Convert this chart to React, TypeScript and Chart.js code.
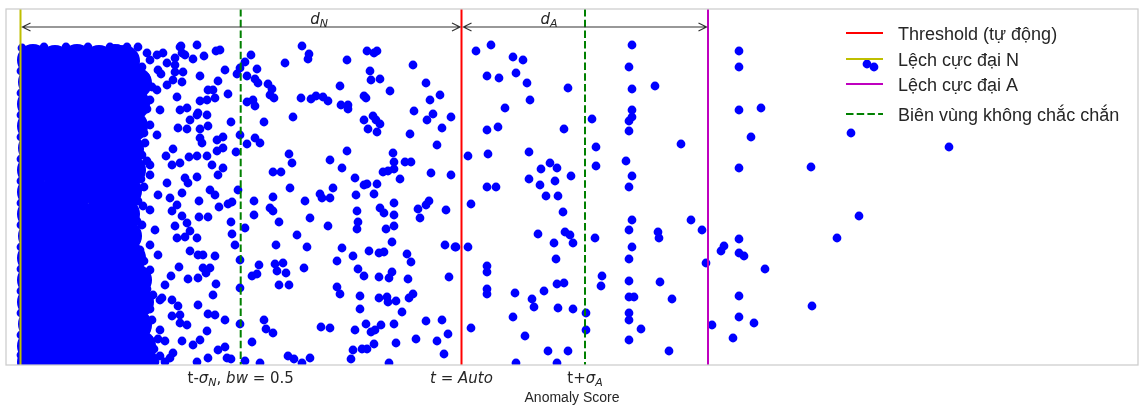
import { useEffect, useRef } from "react";
import { Chart, registerables } from "chart.js";

Chart.register(...registerables);

// ---- axis ranges (score units, jitter units with 0 at top) ----
const scoreMin = 0;
const scoreMax = 1132;
const jitterMin = 0;
const jitterMax = 356;

// ---- reference lines (scores) ----
const maxDevN = 14.5;
const lowerBound = 234.7;
const threshold = 455.5;
const upperBound = 579;
const maxDevA = 702;

// ---- annotation values ----
const arrowLevel = 18;
const dLabelScores = [313, 543];
const dLabelSubs = ["N", "A"];

// ---- tick labels (segments: t text, i italic, s subscript) ----
const tickScores = [lowerBound, threshold, upperBound];
const tickLabels = [
  [{ t: "t-" }, { t: "σ", i: true }, { t: "N", i: true, s: true }, { t: ", " }, { t: "bw", i: true }, { t: " = " }, { t: "0.5" }],
  [{ t: "t", i: true }, { t: " = " }, { t: "Auto", i: true }],
  [{ t: "t+" }, { t: "σ", i: true }, { t: "A", i: true, s: true }],
];
const axisTitle = "Anomaly Score";

// ---- legend ----
const legendLabels = ["Threshold (tự động)", "Lệch cực đại N", "Lệch cực đại A", "Biên vùng không chắc chắn"];
const legendColors = ["#ff0000", "#bfbf00", "#bf00bf", "#008000"];
const legendDashed = [false, false, false, true];

// ---- dense mass of normal samples (overlapping core) ----
const denseCore = [
  [27, 51], [49, 52], [71, 51], [93, 52], [109, 51], [118, 52],
  [28, 73], [49, 73], [70, 74], [93, 73], [114, 73], [130, 74],
  [27, 95], [50, 95], [71, 95], [92, 96], [115, 95], [128, 95],
  [27, 117], [49, 116], [71, 117], [93, 117], [113, 118], [126, 117],
  [28, 139], [49, 139], [72, 139], [93, 138], [112, 139], [122, 140],
  [27, 161], [50, 161], [71, 160], [93, 161], [112, 161], [124, 161],
  [27, 183], [49, 184], [71, 183], [94, 183], [111, 183], [120, 182],
  [27, 205], [49, 205], [70, 205], [93, 206], [110, 205], [118, 205],
  [28, 227], [49, 227], [71, 228], [93, 227], [110, 227], [120, 227],
  [27, 249], [50, 249], [71, 249], [92, 249], [112, 250], [124, 249],
  [27, 271], [49, 270], [71, 271], [93, 271], [115, 271], [130, 271],
  [27, 293], [49, 293], [72, 293], [93, 294], [115, 293], [132, 293],
  [28, 315], [49, 315], [71, 315], [93, 315], [114, 315], [130, 316],
  [27, 337], [50, 337], [71, 338], [93, 337], [115, 337], [134, 337],
  [27, 353], [49, 353], [71, 353], [93, 353], [115, 353], [136, 353],
];

// ---- individual points at the edge of the dense mass ----
const denseEdge = [
  [16, 39], [38, 38], [60, 38], [82, 38], [104, 38], [112, 40],
  [15, 62], [15, 84], [15, 106], [15, 128], [15, 150], [15, 172], [15, 194], [15, 216],
  [15, 238], [15, 260], [15, 282], [15, 304], [15, 326], [15, 346],
  [144, 51], [152, 61], [144, 91], [154, 101], [144, 116], [151, 126], [144, 166], [152, 186],
  [144, 201], [149, 221], [144, 236], [152, 246], [144, 261], [154, 291], [146, 311], [154, 321],
  [144, 331], [159, 353], [149, 353],
  [136, 58], [140, 68], [146, 78], [141, 100], [138, 124], [139, 134], [136, 146], [141, 152],
  [135, 170], [138, 178], [132, 192], [137, 197], [131, 212], [136, 216], [130, 230], [134, 241],
  [138, 252], [136, 264], [141, 280], [144, 300], [140, 322], [148, 340], [152, 330],
];

// ---- transition zone points ----
const transitionPoints = [
  [191, 36], [175, 37], [198, 47], [210, 42], [214, 41], [187, 50], [219, 61], [194, 67], [212, 72],
  [202, 81], [207, 81], [222, 85], [194, 92], [201, 91], [209, 89], [181, 99], [174, 101], [192, 104],
  [201, 106], [184, 111], [172, 119], [181, 120], [194, 120], [202, 117], [194, 129], [196, 134],
  [211, 131], [217, 128], [167, 140], [160, 147], [166, 156], [174, 154], [183, 148], [191, 147],
  [201, 147], [206, 156], [211, 142], [217, 139], [217, 159], [212, 166], [144, 156], [179, 169],
  [182, 174], [191, 168], [161, 174], [204, 181], [209, 186], [176, 184], [164, 189], [171, 196],
  [166, 202], [193, 192], [213, 198], [222, 195], [176, 207], [181, 214], [193, 208], [202, 208],
  [169, 217], [184, 222], [171, 229], [179, 228], [191, 229], [184, 242], [192, 246], [197, 246],
  [209, 247], [173, 258], [182, 270], [192, 269], [197, 259], [204, 259], [200, 264], [210, 275],
  [165, 267], [159, 276], [207, 286], [147, 286], [156, 289], [166, 291], [192, 296], [202, 305],
  [209, 306], [219, 311], [172, 297], [174, 306], [166, 307], [174, 314], [181, 316], [201, 322],
  [194, 331], [187, 336], [212, 341], [219, 338], [221, 349], [202, 349], [191, 353], [167, 344],
  [176, 332], [159, 332], [154, 347], [164, 349], [144, 349],
  [174, 38], [176, 44], [169, 49], [179, 46], [161, 54], [151, 46], [157, 44], [141, 44], [132, 38],
  [121, 38], [169, 56], [169, 63], [177, 63], [167, 71], [176, 73], [155, 65], [161, 76], [151, 81],
  [171, 88], [191, 106],
];

// ---- uncertain zone (left of threshold) ----
const uncertainNormal = [
  [296, 37], [303, 45], [302, 50], [279, 54], [341, 51], [245, 46], [239, 53], [234, 59], [231, 65],
  [241, 67], [251, 60], [249, 70], [252, 74], [262, 75], [266, 80], [264, 86], [268, 89], [241, 93],
  [247, 91], [249, 97], [295, 89], [305, 90], [310, 87], [317, 88], [322, 92], [287, 108], [258, 113],
  [225, 113], [334, 77], [335, 96], [342, 96], [342, 100], [361, 42], [368, 44], [371, 42], [364, 62],
  [365, 71], [374, 70], [384, 82], [358, 87], [360, 89], [407, 56], [420, 74], [434, 86], [424, 91],
  [408, 102], [427, 105], [421, 111], [445, 108], [436, 119], [404, 125], [431, 136], [358, 111],
  [367, 107], [370, 111], [374, 115], [362, 120], [371, 123], [234, 126], [249, 129], [254, 134],
  [241, 135], [230, 143], [283, 145], [286, 154], [267, 163], [275, 163], [324, 151], [336, 159],
  [341, 142], [387, 144], [388, 153], [399, 153], [405, 153], [388, 160], [382, 162], [377, 163],
  [394, 170], [349, 169], [358, 176], [361, 175], [371, 175], [368, 185], [350, 186], [425, 164],
  [445, 166], [232, 181], [226, 193], [248, 192], [267, 188], [284, 179], [299, 192], [314, 185],
  [316, 189], [324, 189], [327, 179], [264, 199], [267, 202], [248, 206], [273, 213], [304, 209],
  [322, 217], [225, 213], [239, 219], [226, 225], [229, 236], [351, 202], [352, 213], [351, 220],
  [374, 199], [378, 204], [388, 194], [388, 206], [388, 217], [380, 220], [386, 233], [412, 200],
  [420, 196], [423, 192], [414, 209], [440, 201], [291, 226], [270, 236], [301, 238], [336, 239],
  [347, 247], [331, 252], [363, 242], [373, 244], [378, 243], [401, 245], [405, 253], [439, 236],
  [449, 238], [234, 251], [253, 256], [246, 267], [251, 265], [269, 255], [277, 254], [271, 262],
  [280, 264], [273, 276], [283, 276], [298, 259], [352, 260], [358, 267], [373, 268], [383, 269],
  [386, 263], [402, 270], [443, 268], [234, 279], [331, 278], [334, 285], [354, 287], [373, 289],
  [381, 288], [382, 293], [390, 292], [403, 289], [407, 285], [354, 300], [396, 303], [258, 311],
  [260, 320], [267, 324], [234, 315], [315, 318], [324, 319], [349, 321], [360, 315], [365, 323],
  [369, 321], [375, 316], [388, 315], [420, 312], [436, 311], [442, 325], [410, 330], [390, 334],
  [368, 335], [431, 332], [438, 345], [246, 333], [347, 341], [356, 340], [361, 340], [282, 347],
  [288, 350], [304, 349], [296, 354], [345, 350], [239, 352], [254, 354], [383, 354], [225, 350],
  [450, 238],
];

// ---- anomaly side (right of threshold) ----
const anomalySide = [
  [485, 36], [470, 42], [507, 48], [517, 51], [481, 67], [493, 69], [510, 64], [521, 74], [562, 79],
  [524, 91], [499, 99], [481, 121], [492, 118], [558, 120], [586, 110], [462, 147], [482, 145],
  [523, 143], [544, 154], [551, 159], [535, 160], [565, 167], [523, 170], [549, 172], [534, 176],
  [481, 178], [490, 178], [540, 187], [552, 187], [465, 195], [557, 203], [590, 138], [590, 157],
  [532, 225], [559, 223], [564, 226], [548, 234], [567, 234], [589, 229], [462, 238], [550, 250],
  [481, 257], [481, 263], [596, 267], [595, 277], [551, 275], [558, 274], [481, 280], [481, 285],
  [509, 284], [538, 282], [526, 290], [528, 298], [552, 299], [567, 300], [580, 304], [507, 308],
  [465, 319], [519, 327], [580, 321], [542, 342], [562, 342], [510, 354], [551, 354],
  [626, 36], [623, 58], [626, 80], [626, 101], [626, 108], [623, 112], [623, 122], [620, 152],
  [626, 167], [623, 178], [626, 211], [623, 221], [626, 238], [623, 250], [623, 272], [623, 288],
  [628, 288], [623, 304], [623, 311], [623, 331],
  [649, 77], [675, 135], [685, 211], [696, 221], [652, 223], [653, 229], [700, 254], [654, 273],
  [666, 290], [635, 320], [663, 342],
  [733, 42], [733, 58], [733, 101], [755, 99], [745, 128], [845, 124], [943, 138], [733, 159],
  [805, 158], [853, 207], [831, 229], [733, 230], [718, 237], [715, 242], [733, 244], [738, 247],
  [759, 260], [733, 287], [806, 297], [733, 308], [748, 314], [706, 316], [727, 329], [861, 55],
  [868, 58],
];

const BLUE = "#0000ff";
const TEXT = "#262626";

const toXY = (pts: number[][]) => pts.map(([x, y]) => ({ x, y }));

function vline(label: string, score: number, color: string, dashed: boolean) {
  return {
    label,
    data: [{ x: score, y: jitterMin }, { x: score, y: jitterMax }],
    showLine: true,
    borderColor: color,
    backgroundColor: color,
    borderWidth: 2,
    borderDash: dashed ? [7.5, 3.2] : [],
    pointRadius: 0,
    order: 0,
    clip: 0,
  };
}

type Seg = { t: string; i?: boolean; s?: boolean };

function drawRich(ctx: CanvasRenderingContext2D, segs: Seg[], cx: number, baseline: number, size: number, align: "center" | "left") {
  const fontOf = (s: Seg) => `${s.i ? "italic " : ""}${s.s ? Math.round(size * 0.7) : size}px "DejaVu Sans"`;
  let w = 0;
  for (const s of segs) {
    ctx.font = fontOf(s);
    w += ctx.measureText(s.t).width;
  }
  let xx = align === "center" ? cx - w / 2 : cx;
  ctx.textAlign = "left";
  ctx.textBaseline = "alphabetic";
  for (const s of segs) {
    ctx.font = fontOf(s);
    ctx.fillText(s.t, xx, baseline + (s.s ? size * 0.22 : 0));
    xx += ctx.measureText(s.t).width;
  }
}

function drawArrow(ctx: CanvasRenderingContext2D, x0: number, x1: number, y: number) {
  const a = x0 + 2;
  const b = x1 - 1.5;
  ctx.beginPath();
  ctx.moveTo(a, y);
  ctx.lineTo(b, y);
  ctx.moveTo(a + 8, y - 4);
  ctx.lineTo(a, y);
  ctx.lineTo(a + 8, y + 4);
  ctx.moveTo(b - 8, y - 4);
  ctx.lineTo(b, y);
  ctx.lineTo(b - 8, y + 4);
  ctx.stroke();
}

const decorations = {
  id: "decorations",
  afterDatasetsDraw(chart: any) {
    const { ctx, chartArea: area, scales } = chart;
    const xs = scales.x;
    const ys = scales.y;
    ctx.save();
    // frame
    ctx.strokeStyle = "#cccccc";
    ctx.lineWidth = 1.25;
    ctx.setLineDash([]);
    ctx.strokeRect(area.left, area.top, area.right - area.left, area.bottom - area.top);

    // arrows
    ctx.strokeStyle = "#333333";
    ctx.lineWidth = 1.2;
    const ay = ys.getPixelForValue(arrowLevel);
    drawArrow(ctx, xs.getPixelForValue(maxDevN), xs.getPixelForValue(threshold), ay);
    drawArrow(ctx, xs.getPixelForValue(threshold), xs.getPixelForValue(maxDevA), ay);

    // d labels
    ctx.fillStyle = TEXT;
    dLabelScores.forEach((sc, k) => {
      drawRich(ctx, [{ t: "d", i: true }, { t: dLabelSubs[k], i: true, s: true }], xs.getPixelForValue(sc), ay - 3, 15, "center");
    });

    // tick labels
    tickScores.forEach((sc, k) => {
      drawRich(ctx, tickLabels[k], xs.getPixelForValue(sc), area.bottom + 18, 15, "center");
    });

    // axis title
    ctx.font = '14px "Liberation Sans", Arial, sans-serif';
    ctx.textAlign = "center";
    ctx.textBaseline = "alphabetic";
    ctx.fillText(axisTitle, (area.left + area.right) / 2, area.bottom + 37);

    // legend
    const hx0 = area.right - 292;
    const rows = [24, 50, 75, 105];
    legendLabels.forEach((lab, k) => {
      const cy = area.top + rows[k];
      ctx.strokeStyle = legendColors[k];
      ctx.lineWidth = 2;
      ctx.setLineDash(legendDashed[k] ? [7.5, 3.2] : []);
      ctx.beginPath();
      ctx.moveTo(hx0, cy);
      ctx.lineTo(hx0 + 37, cy);
      ctx.stroke();
      ctx.setLineDash([]);
      ctx.fillStyle = TEXT;
      ctx.font = '18px "Liberation Sans", Arial, sans-serif';
      ctx.textAlign = "left";
      ctx.textBaseline = "alphabetic";
      ctx.fillText(lab, hx0 + 52, cy + 6.5);
    });
    ctx.restore();
  },
};

export default function App() {
  const ref = useRef<HTMLCanvasElement | null>(null);
  useEffect(() => {
    if (!ref.current) return;
    const pointStyle = {
      backgroundColor: BLUE,
      borderColor: BLUE,
      borderWidth: 0,
      pointRadius: 4.4,
      showLine: false,
      order: 1,
      clip: 0,
    };
    const chart = new Chart(ref.current, {
      type: "scatter",
      data: {
        datasets: [
          vline(legendLabels[0], threshold, legendColors[0], false),
          vline(legendLabels[1], maxDevN, legendColors[1], false),
          vline(legendLabels[2], maxDevA, legendColors[2], false),
          vline(legendLabels[3], lowerBound, legendColors[3], true),
          vline(legendLabels[3] + " ", upperBound, legendColors[3], true),
          { label: "core", data: toXY(denseCore), ...pointStyle, pointRadius: 16 },
          { label: "edge", data: toXY(denseEdge), ...pointStyle },
          { label: "transition", data: toXY(transitionPoints), ...pointStyle },
          { label: "uncertain", data: toXY(uncertainNormal), ...pointStyle },
          { label: "anomaly", data: toXY(anomalySide), ...pointStyle },
        ] as any,
      },
      options: {
        animation: false,
        responsive: false,
        events: [],
        layout: { autoPadding: false, padding: { left: 6, right: 2, top: 9, bottom: 41 } },
        scales: {
          x: { type: "linear", min: scoreMin, max: scoreMax, display: false },
          y: { type: "linear", min: jitterMin, max: jitterMax, reverse: true, display: false },
        },
        plugins: { legend: { display: false }, tooltip: { enabled: false } },
      },
      plugins: [decorations],
    });
    return () => chart.destroy();
  }, []);
  return (
    <div style={{ position: "fixed", left: 0, top: 0, width: 1140, height: 406, background: "#fff" }}>
      <canvas ref={ref} width={1140} height={406} style={{ display: "block" }} />
    </div>
  );
}
